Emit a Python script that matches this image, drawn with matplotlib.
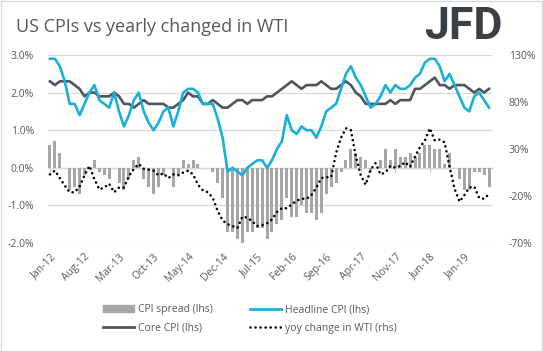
import numpy as np
import pandas as pd
import matplotlib
matplotlib.use("Agg")
import matplotlib.pyplot as plt
from matplotlib.patches import Rectangle, Patch
from matplotlib.lines import Line2D

# ---------------- data ----------------
months = pd.date_range("2012-01-01", periods=90, freq="MS")
month_labels = [d.strftime("%b-%y") for d in months]

headline_cpi = [2.9, 2.9, 2.7, 2.3, 1.7, 1.7, 1.4, 1.7, 2.0, 2.2, 1.8, 1.7,
                1.6, 2.0, 1.5, 1.1, 1.4, 1.8, 2.0, 1.5, 1.2, 1.0, 1.2, 1.5,
                1.6, 1.1, 1.5, 2.0, 2.1, 2.1, 2.0, 1.7, 1.7, 1.7, 1.3, 0.8,
                -0.1, 0.0, -0.1, -0.2, 0.0, 0.1, 0.2, 0.2, 0.0, 0.2, 0.5, 0.7,
                1.4, 1.0, 0.9, 1.1, 1.0, 1.0, 0.8, 1.1, 1.5, 1.6, 1.7, 2.1,
                2.5, 2.7, 2.4, 2.2, 1.9, 1.6, 1.7, 1.9, 2.2, 2.0, 2.2, 2.1,
                2.1, 2.2, 2.4, 2.5, 2.8, 2.9, 2.9, 2.7, 2.3, 2.5, 2.2, 1.9,
                1.6, 1.5, 1.9, 2.0, 1.8, 1.6]

core_cpi = [2.3, 2.2, 2.3, 2.3, 2.3, 2.2, 2.1, 1.9, 2.0, 2.0, 1.9, 1.9,
            1.9, 2.0, 1.9, 1.7, 1.7, 1.6, 1.7, 1.8, 1.7, 1.7, 1.7, 1.7,
            1.6, 1.6, 1.7, 1.8, 2.0, 1.9, 1.9, 1.7, 1.7, 1.8, 1.7, 1.6,
            1.6, 1.7, 1.8, 1.8, 1.7, 1.8, 1.8, 1.8, 1.9, 1.9, 2.0, 2.1,
            2.2, 2.3, 2.2, 2.1, 2.2, 2.2, 2.2, 2.3, 2.2, 2.1, 2.1, 2.2,
            2.3, 2.2, 2.0, 1.9, 1.7, 1.7, 1.7, 1.7, 1.7, 1.8, 1.7, 1.8,
            1.8, 1.8, 2.1, 2.1, 2.2, 2.3, 2.4, 2.2, 2.2, 2.1, 2.2, 2.2,
            2.2, 2.1, 2.0, 2.1, 2.0, 2.1]

wti_yoy = [3, 7, -1, -9, -16, -16, -10, 2, 12, -2, -13, -11,
           -7, -16, -11, -11, 1, 9, 14, 9, 8, 7, 2, 4,
           -1, 3, 2, 5, 7, 3, -8, -14, -16, -22, -36, -46,
           -50, -52, -54, -42, -43, -47, -52, -51, -49, -45, -37, -33,
           -33, -29, -25, -23, -23, -19, -11, -1, 0, 0, 26, 42,
           52, 50, 22, 2, -8, 8, 15, 3, 5, 12, 10, 12,
           16, 11, 22, 32, 39, 52, 39, 40, 37, 11, -12, -26,
           -19, -11, -10, -22, -23, -18]

cpi_spread = np.round(np.array(headline_cpi) - np.array(core_cpi), 1)

# ---------------- style ----------------
TXT = "#595959"
GRID = "#D9D9D9"
C_HEAD = "#1AB0D8"
C_CORE = "#4D5561"
C_BAR = "#A6A6A6"
plt.rcParams["font.family"] = ["Open Sans", "DejaVu Sans"]

fig = plt.figure(figsize=(5.43, 3.51), dpi=100)
ax = fig.add_axes([48 / 543, 1 - 243 / 351, (492 - 48) / 543, (243 - 55) / 351])
ax2 = ax.twinx()

x = np.arange(len(months))

ax.bar(x, cpi_spread, width=0.6, color=C_BAR, zorder=2)
ax.plot(x, headline_cpi, color=C_HEAD, lw=1.9, zorder=4, solid_joinstyle="round")
ax.plot(x, core_cpi, color=C_CORE, lw=1.9, zorder=3, solid_joinstyle="round")
ax2.plot(x, wti_yoy, color="black", lw=1.9, linestyle=(0, (0.01, 1.9)),
         dash_capstyle="round", zorder=5)

ax.set_ylim(-2, 3)
ax.set_yticks([-2, -1, 0, 1, 2, 3])
ax.set_yticklabels([f"{v:.1f}%" for v in [-2, -1, 0, 1, 2, 3]])
ax2.set_ylim(-70, 130)
ax2.set_yticks([-70, -20, 30, 80, 130])
ax2.set_yticklabels([f"{v}%" for v in [-70, -20, 30, 80, 130]])
ax.set_xlim(-0.4, 89.6)

ax.grid(axis="y", color=GRID, lw=0.9, zorder=0)
ax.set_axisbelow(True)
for a in (ax, ax2):
    for s in a.spines.values():
        s.set_visible(False)
ax.tick_params(axis="y", length=0, labelsize=7.5, labelcolor=TXT, pad=10)
ax2.tick_params(axis="y", length=0, labelsize=7.5, labelcolor=TXT, pad=12)

tick_pos = list(range(0, 90, 7))
ax.set_xticks(tick_pos)
ax.set_xticklabels([month_labels[i] for i in tick_pos], rotation=45, ha="right",
                   rotation_mode="anchor")
ax.tick_params(axis="x", length=0, labelsize=7.5, labelcolor=TXT, pad=6)

# zero axis with small tick marks
sec = ax.secondary_xaxis(0.4)
sec.set_xticks(tick_pos)
sec.set_xticklabels([])
sec.tick_params(axis="x", length=3, color="#BFBFBF", width=0.8, direction="out")
sec.spines["bottom"].set_color("#BFBFBF")
sec.spines["bottom"].set_linewidth(0.9)

# title and logo
fig.text(16 / 543, 1 - 27 / 351, "US CPIs vs yearly changed in WTI", fontsize=13,
         color=TXT, ha="left", va="center")
fig.text(463 / 543, 1 - 27 / 351, "JFD", fontsize=32, fontweight="bold",
         color="#3A3E45", ha="center", va="center", family=["Roboto", "DejaVu Sans"])

# legend
handles = [Patch(color=C_BAR), Line2D([], [], color=C_CORE, lw=2),
           Line2D([], [], color=C_HEAD, lw=2),
           Line2D([], [], color="black", lw=1.9, linestyle=(0, (0.01, 1.9)),
                  dash_capstyle="round")]
labels = ["CPI spread (lhs)", "Core CPI (lhs)", "Headline CPI (lhs)",
          "yoy change in WTI (rhs)"]
fig.legend(handles, labels, ncol=2, loc="center", bbox_to_anchor=(0.46, 1 - 319 / 351),
           frameon=False, fontsize=7.5, labelcolor=TXT, handlelength=3.0,
           handleheight=0.6, handletextpad=0.4, columnspacing=3.5, labelspacing=0.75)

# outer border
fig.patches.append(Rectangle((0.5 / 543, 0.5 / 351), 1 - 1.5 / 543, 1 - 1.5 / 351,
                             transform=fig.transFigure, fill=False, ec="#D9D9D9", lw=1))

fig.savefig("out.png", dpi=100)
